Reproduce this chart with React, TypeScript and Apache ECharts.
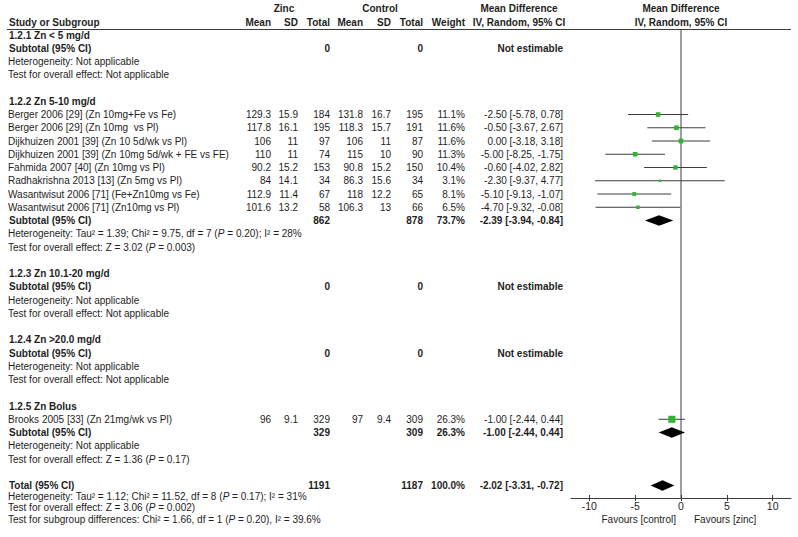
import React, { useEffect, useRef } from "react";
import * as echarts from "echarts";

// ---------------- data ----------------
const groupTitles = [
  "1.2.1 Zn < 5 mg/d",
  "1.2.2 Zn 5-10 mg/d",
  "1.2.3 Zn 10.1-20 mg/d",
  "1.2.4 Zn >20.0 mg/d",
  "1.2.5 Zn Bolus",
];

const studyNames = [
  "Berger 2006 [29] (Zn 10mg+Fe vs Fe)",
  "Berger 2006 [29] (Zn 10mg  vs Pl)",
  "Dijkhuizen 2001 [39] (Zn 10 5d/wk vs Pl)",
  "Dijkhuizen 2001 [39] (Zn 10mg 5d/wk + FE vs FE)",
  "Fahmida 2007 [40] (Zn 10mg vs Pl)",
  "Radhakrishna 2013 [13] (Zn 5mg vs Pl)",
  "Wasantwisut 2006 [71] (Fe+Zn10mg vs Fe)",
  "Wasantwisut 2006 [71] (Zn10mg vs Pl)",
  "Brooks 2005 [33] (Zn 21mg/wk vs Pl)",
];
const studyGroup = [1, 1, 1, 1, 1, 1, 1, 1, 4];
const zincMean = [129.3, 117.8, 106, 110, 90.2, 84, 112.9, 101.6, 96];
const zincSD = [15.9, 16.1, 11, 11, 15.2, 14.1, 11.4, 13.2, 9.1];
const zincTotal = [184, 195, 97, 74, 153, 34, 67, 58, 329];
const ctrlMean = [131.8, 118.3, 106, 115, 90.8, 86.3, 118, 106.3, 97];
const ctrlSD = [16.7, 15.7, 11, 10, 15.2, 15.6, 12.2, 13, 9.4];
const ctrlTotal = [195, 191, 87, 90, 150, 34, 65, 66, 309];
const weights = [11.1, 11.6, 11.6, 11.3, 10.4, 3.1, 8.1, 6.5, 26.3];
const meanDiff = [-2.5, -0.5, 0.0, -5.0, -0.6, -2.3, -5.1, -4.7, -1.0];
const ciLow = [-5.78, -3.67, -3.18, -8.25, -4.02, -9.37, -9.13, -9.32, -2.44];
const ciHigh = [0.78, 2.67, 3.18, -1.75, 2.82, 4.77, -1.07, -0.08, 0.44];

const subZincTotal = [0, 862, 0, 0, 329];
const subCtrlTotal = [0, 878, 0, 0, 309];
const subWeight: (number | null)[] = [null, 73.7, null, null, 26.3];
const subMD: (number | null)[] = [null, -2.39, null, null, -1.0];
const subLow: (number | null)[] = [null, -3.94, null, null, -2.44];
const subHigh: (number | null)[] = [null, -0.84, null, null, 0.44];
const subHet = [
  "Heterogeneity: Not applicable",
  "Heterogeneity: Tau² = 1.39; Chi² = 9.75, df = 7 ({i|P} = 0.20); I² = 28%",
  "Heterogeneity: Not applicable",
  "Heterogeneity: Not applicable",
  "Heterogeneity: Not applicable",
];
const subTest = [
  "Test for overall effect: Not applicable",
  "Test for overall effect: Z = 3.02 ({i|P} = 0.003)",
  "Test for overall effect: Not applicable",
  "Test for overall effect: Not applicable",
  "Test for overall effect: Z = 1.36 ({i|P} = 0.17)",
];

const totalZinc = 1191;
const totalCtrl = 1187;
const totalWeight = 100.0;
const totalMD = -2.02;
const totalLow = -3.31;
const totalHigh = -0.72;
const footerTexts = [
  "Heterogeneity: Tau² = 1.12; Chi² = 11.52, df = 8 ({i|P} = 0.17); I² = 31%",
  "Test for overall effect: Z = 3.06 ({i|P} = 0.002)",
  "Test for subgroup differences: Chi² = 1.66, df = 1 ({i|P} = 0.20), I² = 39.6%",
];

const tickValues = [-10, -5, 0, 5, 10];
const favoursLeft = "Favours [control]";
const favoursRight = "Favours [zinc]";

// ---------------- layout ----------------
const W = 798;
const H = 537;
const FF = "'Liberation Sans', Arial, Helvetica, sans-serif";
const FS = 10;
const TEXT = "#1e1e1e";
const LINE = "#3c3c3c";
const GREEN = "#2fb52f";
const ROW0 = 35;
const STEP = 13.25;
const rowY = (k: number) => ROW0 + STEP * k;
const GRID_TOP = 29;
const GRID_BOTTOM = 498;
const GRID_LEFT = 571;
const GRID_RIGHT = 791;
const yMin = (GRID_TOP - ROW0) / STEP;
const yMax = (GRID_BOTTOM - ROW0) / STEP;
const footerY = [496.5, 507.5, 519];

const COL = {
  name: 8,
  nameBold: 9,
  zMean: 271,
  zSD: 298,
  zTot: 330,
  cMean: 363,
  cSD: 391,
  cTot: 423,
  weight: 465,
  ci: 563,
};

const fontReg = `${FS}px ${FF}`;
const fontBold = `bold ${FS}px ${FF}`;
const fontItal = `italic ${FS}px ${FF}`;
const fontBoldItal = `italic bold ${FS}px ${FF}`;

function txt(text: string, x: number, y: number, align = "left", bold = false) {
  return {
    type: "text",
    x,
    y,
    silent: true,
    style: {
      text,
      font: bold ? fontBold : fontReg,
      fill: TEXT,
      align,
      verticalAlign: "middle",
      rich: { i: { font: bold ? fontBoldItal : fontItal, fill: TEXT } },
    },
  };
}

const fmt2 = (v: number) => v.toFixed(2);
const ciText = (m: number, l: number, h: number) => `${fmt2(m)} [${fmt2(l)}, ${fmt2(h)}]`;

export default function App() {
  const ref = useRef<HTMLDivElement>(null);

  useEffect(() => {
    if (!ref.current) return;
    const chart = echarts.init(ref.current, undefined, { renderer: "svg" });

    const els: any[] = [];
    // header
    els.push(txt("Zinc", 284, 8, "center", true));
    els.push(txt("Control", 380, 8, "center", true));
    els.push(txt("Mean Difference", 519, 8, "center", true));
    els.push(txt("Mean Difference", 681, 8, "center", true));
    els.push(txt("Study or Subgroup", COL.nameBold, 22, "left", true));
    els.push(txt("Mean", COL.zMean, 22, "right", true));
    els.push(txt("SD", COL.zSD, 22, "right", true));
    els.push(txt("Total", COL.zTot, 22, "right", true));
    els.push(txt("Mean", COL.cMean, 22, "right", true));
    els.push(txt("SD", COL.cSD, 22, "right", true));
    els.push(txt("Total", COL.cTot, 22, "right", true));
    els.push(txt("Weight", COL.weight, 22, "right", true));
    els.push(txt("IV, Random, 95% CI", 519, 22, "center", true));
    els.push(txt("IV, Random, 95% CI", 681, 22, "center", true));
    els.push({
      type: "line",
      silent: true,
      shape: { x1: 7, y1: GRID_TOP + 0.5, x2: GRID_RIGHT, y2: GRID_TOP + 0.5 },
      style: { stroke: LINE, lineWidth: 1 },
    });

    const studyRow: number[] = [];
    const diamondData: number[][] = [];
    let k = 0;
    groupTitles.forEach((title, g) => {
      els.push(txt(title, COL.nameBold, rowY(k), "left", true));
      k++;
      studyGroup.forEach((sg, i) => {
        if (sg !== g) return;
        studyRow[i] = k;
        const y = rowY(k);
        els.push(txt(studyNames[i], COL.name, y));
        els.push(txt(String(zincMean[i]), COL.zMean, y, "right"));
        els.push(txt(String(zincSD[i]), COL.zSD, y, "right"));
        els.push(txt(String(zincTotal[i]), COL.zTot, y, "right"));
        els.push(txt(String(ctrlMean[i]), COL.cMean, y, "right"));
        els.push(txt(String(ctrlSD[i]), COL.cSD, y, "right"));
        els.push(txt(String(ctrlTotal[i]), COL.cTot, y, "right"));
        els.push(txt(weights[i].toFixed(1) + "%", COL.weight, y, "right"));
        els.push(txt(ciText(meanDiff[i], ciLow[i], ciHigh[i]), COL.ci, y, "right"));
        k++;
      });
      const ys = rowY(k);
      els.push(txt("Subtotal (95% CI)", COL.nameBold, ys, "left", true));
      els.push(txt(String(subZincTotal[g]), COL.zTot, ys, "right", true));
      els.push(txt(String(subCtrlTotal[g]), COL.cTot, ys, "right", true));
      const m = subMD[g];
      if (m !== null) {
        els.push(txt((subWeight[g] as number).toFixed(1) + "%", COL.weight, ys, "right", true));
        els.push(txt(ciText(m, subLow[g] as number, subHigh[g] as number), COL.ci, ys, "right", true));
        diamondData.push([m, subLow[g] as number, subHigh[g] as number, k]);
      } else {
        els.push(txt("Not estimable", COL.ci, ys, "right", true));
      }
      k++;
      els.push(txt(subHet[g], COL.name, rowY(k)));
      k++;
      els.push(txt(subTest[g], COL.name, rowY(k)));
      k++;
      k++; // blank
    });
    const yt = rowY(k);
    els.push(txt("Total (95% CI)", COL.nameBold, yt, "left", true));
    els.push(txt(String(totalZinc), COL.zTot, yt, "right", true));
    els.push(txt(String(totalCtrl), COL.cTot, yt, "right", true));
    els.push(txt(totalWeight.toFixed(1) + "%", COL.weight, yt, "right", true));
    els.push(txt(ciText(totalMD, totalLow, totalHigh), COL.ci, yt, "right", true));
    diamondData.push([totalMD, totalLow, totalHigh, k]);
    footerTexts.forEach((t, i) => els.push(txt(t, COL.name, footerY[i])));

    els.push(txt(favoursLeft, 676, 519, "right"));
    els.push(txt(favoursRight, 694, 519, "left"));

    const studyData = studyNames.map((_, i) => [meanDiff[i], ciLow[i], ciHigh[i], studyRow[i], weights[i]]);

    const option: any = {
      animation: false,
      backgroundColor: "#ffffff",
      grid: {
        left: GRID_LEFT,
        top: GRID_TOP,
        width: GRID_RIGHT - GRID_LEFT,
        height: GRID_BOTTOM - GRID_TOP,
        containLabel: false,
      },
      xAxis: [
        {
          type: "value",
          min: -12,
          max: 12,
          position: "bottom",
          splitLine: { show: false },
          axisLine: { onZero: false, lineStyle: { color: LINE, width: 1 } },
          axisTick: { customValues: tickValues, length: 3, lineStyle: { color: LINE } },
          axisLabel: {
            customValues: tickValues,
            fontSize: 10.5,
            fontFamily: FF,
            color: TEXT,
            margin: 2,
          },
        },
        {
          type: "value",
          min: -12,
          max: 12,
          position: "top",
          offset: -(GRID_BOTTOM - GRID_TOP),
          splitLine: { show: false },
          axisLine: { show: false, onZero: false },
          axisTick: { customValues: tickValues, length: 3, lineStyle: { color: LINE } },
          axisLabel: { show: false },
        },
      ],
      yAxis: { type: "value", inverse: true, min: yMin, max: yMax, show: false },
      graphic: { elements: els },
      series: [
        {
          type: "line",
          data: [
            [0, yMin],
            [0, yMax],
          ],
          symbol: "none",
          silent: true,
          lineStyle: { color: LINE, width: 1 },
          z: 1,
        },
        {
          type: "custom",
          data: studyData,
          encode: { x: [0, 1, 2], y: 3 },
          silent: true,
          z: 3,
          renderItem: (_p: any, api: any) => {
            const m = api.value(0);
            const lo = api.value(1);
            const hi = api.value(2);
            const r = api.value(3);
            const w = api.value(4);
            const pl = api.coord([lo, r]);
            const ph = api.coord([hi, r]);
            const pm = api.coord([m, r]);
            const s = 7 * Math.sqrt(w / 26.3);
            return {
              type: "group",
              children: [
                {
                  type: "line",
                  shape: { x1: pl[0], y1: pl[1], x2: ph[0], y2: ph[1] },
                  style: { stroke: LINE, lineWidth: 1 },
                },
                {
                  type: "rect",
                  shape: { x: pm[0] - s / 2, y: pm[1] - s / 2, width: s, height: s },
                  style: { fill: GREEN },
                },
              ],
            };
          },
        },
        {
          type: "custom",
          data: diamondData,
          encode: { x: [0, 1, 2], y: 3 },
          silent: true,
          z: 3,
          renderItem: (_p: any, api: any) => {
            const m = api.value(0);
            const lo = api.value(1);
            const hi = api.value(2);
            const r = api.value(3);
            const pl = api.coord([lo, r]);
            const ph = api.coord([hi, r]);
            const pm = api.coord([m, r]);
            const h = 5.3;
            return {
              type: "polygon",
              shape: {
                points: [
                  [pl[0], pl[1]],
                  [pm[0], pm[1] - h],
                  [ph[0], ph[1]],
                  [pm[0], pm[1] + h],
                ],
              },
              style: { fill: "#000000" },
            };
          },
        },
      ],
    };

    chart.setOption(option);
    return () => chart.dispose();
  }, []);

  return (
    <div
      ref={ref}
      style={{ position: "fixed", left: 0, top: 0, width: W, height: H, background: "#fff" }}
    />
  );
}
